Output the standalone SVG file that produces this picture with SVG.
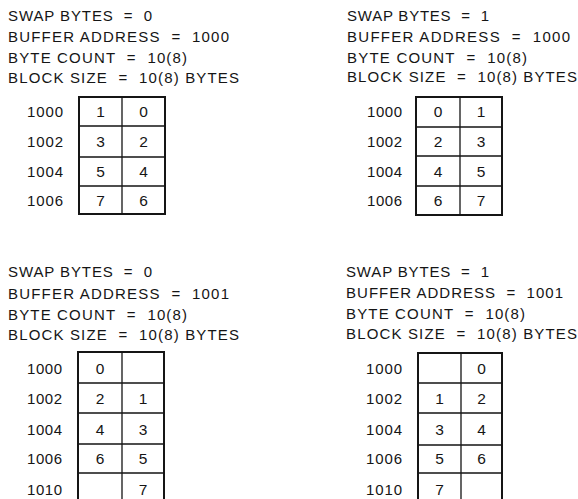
<svg xmlns="http://www.w3.org/2000/svg" width="578" height="499" viewBox="0 0 578 499">
<style>
text{font-family:"Liberation Sans",Arial,sans-serif;fill:#151515}
.h{font-size:15px}
.a{font-size:15px}
.d{font-size:15.5px;text-anchor:middle}
.box{fill:none;stroke:#151515;stroke-width:2}
.grid{stroke:#151515;stroke-width:1.3;fill:none}
</style>
<rect width="578" height="499" fill="#fff"/>

<g id="panel-swap0-addr1000">
<text class="h" x="8" y="21" textLength="144" lengthAdjust="spacing">SWAP BYTES&#160; = &#160;0</text>
<text class="h" x="8" y="42" textLength="221" lengthAdjust="spacing">BUFFER ADDRESS&#160; = &#160;1000</text>
<text class="h" x="8" y="62.5" textLength="179" lengthAdjust="spacing">BYTE COUNT&#160; = &#160;10(8)</text>
<text class="h" x="8" y="83" textLength="231" lengthAdjust="spacing">BLOCK SIZE&#160; = &#160;10(8) BYTES</text>
<text class="a" x="27" y="117" textLength="36" lengthAdjust="spacing">1000</text>
<text class="a" x="27" y="147" textLength="36" lengthAdjust="spacing">1002</text>
<text class="a" x="27" y="177" textLength="36" lengthAdjust="spacing">1004</text>
<text class="a" x="27" y="205.5" textLength="36" lengthAdjust="spacing">1006</text>
<rect class="box" x="79" y="97" width="86" height="117"/>
<path class="grid" d="M122 97V214M79 126H165M79 157H165M79 186H165"/>
<text class="d" x="100.5" y="117">1</text><text class="d" x="143.5" y="117">0</text>
<text class="d" x="100.5" y="147">3</text><text class="d" x="143.5" y="147">2</text>
<text class="d" x="100.5" y="177">5</text><text class="d" x="143.5" y="177">4</text>
<text class="d" x="100.5" y="205.5">7</text><text class="d" x="143.5" y="205.5">6</text>
</g>

<g id="panel-swap1-addr1000">
<text class="h" x="347" y="21" textLength="142" lengthAdjust="spacing">SWAP BYTES&#160; = &#160;1</text>
<text class="h" x="347" y="42" textLength="223" lengthAdjust="spacing">BUFFER ADDRESS&#160; = &#160;1000</text>
<text class="h" x="347" y="62.5" textLength="180" lengthAdjust="spacing">BYTE COUNT&#160; = &#160;10(8)</text>
<text class="h" x="347" y="82" textLength="230" lengthAdjust="spacing">BLOCK SIZE&#160; = &#160;10(8) BYTES</text>
<text class="a" x="367" y="117" textLength="35" lengthAdjust="spacing">1000</text>
<text class="a" x="367" y="147" textLength="35" lengthAdjust="spacing">1002</text>
<text class="a" x="367" y="177" textLength="35" lengthAdjust="spacing">1004</text>
<text class="a" x="367" y="205.5" textLength="35" lengthAdjust="spacing">1006</text>
<rect class="box" x="416" y="97" width="86" height="118"/>
<path class="grid" d="M460 97V215M416 127H502M416 156H502M416 186H502"/>
<text class="d" x="438" y="117">0</text><text class="d" x="481" y="117">1</text>
<text class="d" x="438" y="147">2</text><text class="d" x="481" y="147">3</text>
<text class="d" x="438" y="177">4</text><text class="d" x="481" y="177">5</text>
<text class="d" x="438" y="205.5">6</text><text class="d" x="481" y="205.5">7</text>
</g>

<g id="panel-swap0-addr1001">
<text class="h" x="8" y="277" textLength="144" lengthAdjust="spacing">SWAP BYTES&#160; = &#160;0</text>
<text class="h" x="8" y="298.5" textLength="221" lengthAdjust="spacing">BUFFER ADDRESS&#160; = &#160;1001</text>
<text class="h" x="8" y="319.5" textLength="179" lengthAdjust="spacing">BYTE COUNT&#160; = &#160;10(8)</text>
<text class="h" x="8" y="339.5" textLength="231" lengthAdjust="spacing">BLOCK SIZE&#160; = &#160;10(8) BYTES</text>
<text class="a" x="27" y="374" textLength="35" lengthAdjust="spacing">1000</text>
<text class="a" x="27" y="404" textLength="35" lengthAdjust="spacing">1002</text>
<text class="a" x="27" y="434.5" textLength="35" lengthAdjust="spacing">1004</text>
<text class="a" x="27" y="464" textLength="35" lengthAdjust="spacing">1006</text>
<text class="a" x="27" y="494.5" textLength="35" lengthAdjust="spacing">1010</text>
<rect class="box" x="78" y="352" width="86" height="155"/>
<path class="grid" d="M122 352V507M78 383H164M78 413H164M78 444H164M78 473H164"/>
<text class="d" x="100" y="374">0</text>
<text class="d" x="100" y="404">2</text><text class="d" x="143" y="404">1</text>
<text class="d" x="100" y="434.5">4</text><text class="d" x="143" y="434.5">3</text>
<text class="d" x="100" y="464">6</text><text class="d" x="143" y="464">5</text>
<text class="d" x="143" y="494.5">7</text>
</g>

<g id="panel-swap1-addr1001">
<text class="h" x="346" y="277" textLength="143" lengthAdjust="spacing">SWAP BYTES&#160; = &#160;1</text>
<text class="h" x="346" y="298" textLength="217" lengthAdjust="spacing">BUFFER ADDRESS&#160; = &#160;1001</text>
<text class="h" x="346" y="318.5" textLength="179" lengthAdjust="spacing">BYTE COUNT&#160; = &#160;10(8)</text>
<text class="h" x="346" y="338.5" textLength="231" lengthAdjust="spacing">BLOCK SIZE&#160; = &#160;10(8) BYTES</text>
<text class="a" x="366" y="374" textLength="36" lengthAdjust="spacing">1000</text>
<text class="a" x="366" y="404" textLength="36" lengthAdjust="spacing">1002</text>
<text class="a" x="366" y="434.5" textLength="36" lengthAdjust="spacing">1004</text>
<text class="a" x="366" y="464" textLength="36" lengthAdjust="spacing">1006</text>
<text class="a" x="366" y="494.5" textLength="36" lengthAdjust="spacing">1010</text>
<rect class="box" x="418" y="353" width="84" height="154"/>
<path class="grid" d="M461 353V507M418 383H502M418 413H502M418 445H502M418 473H502"/>
<text class="d" x="481.5" y="374">0</text>
<text class="d" x="439.5" y="404">1</text><text class="d" x="481.5" y="404">2</text>
<text class="d" x="439.5" y="434.5">3</text><text class="d" x="481.5" y="434.5">4</text>
<text class="d" x="439.5" y="464">5</text><text class="d" x="481.5" y="464">6</text>
<text class="d" x="439.5" y="494.5">7</text>
</g>

<g id="connectors"></g>
</svg>
